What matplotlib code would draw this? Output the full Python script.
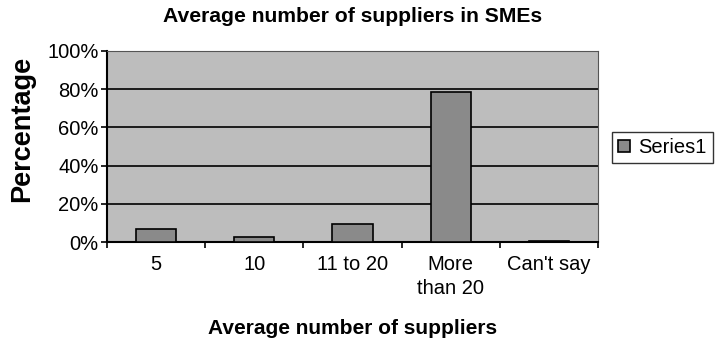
import matplotlib.pyplot as plt
import numpy as np

plt.rcParams['font.family'] = ['Liberation Sans', 'DejaVu Sans']

# === DATA ===
categories = ["5", "10", "11 to 20", "More\nthan 20", "Can't say"]
percentages = [6.8, 2.5, 9.2, 78.3, 0.5]
y_ticks = [0, 20, 40, 60, 80, 100]
y_tick_labels = ["0%", "20%", "40%", "60%", "80%", "100%"]

W, H = 717, 345
fig = plt.figure(figsize=(W / 100, H / 100), dpi=100)
# plot area in pixels: x 107..598, y 51..242
ax = fig.add_axes([107 / W, 1 - 242 / H, (598 - 107) / W, (242 - 51) / H])

ax.set_facecolor('#bdbdbd')
x = np.arange(len(categories))
ax.bar(x, percentages, width=0.41, color='#8a8a8a', edgecolor='black', linewidth=1.2,
       label='Series1', zorder=3)

ax.set_xlim(-0.5, len(categories) - 0.5)
ax.set_ylim(0, 100)
ax.set_yticks(y_ticks)
ax.set_yticklabels(y_tick_labels, fontsize=14.5)
ax.yaxis.grid(True, color='black', linewidth=1.2, zorder=1)
ax.set_axisbelow(True)

# category ticks sit between categories, labels centred
ax.set_xticks(np.arange(-0.5, len(categories), 1.0))
ax.set_xticklabels([])
ax.set_xticks(x, minor=True)
ax.set_xticklabels(categories, minor=True, fontsize=14.5, va='top', linespacing=1.35)
ax.tick_params(axis='x', which='minor', length=0, pad=9)
ax.tick_params(axis='x', which='major', length=4.5, width=1.2, direction='out')
ax.tick_params(axis='y', length=4, width=1.2, pad=2)

for side in ['left', 'bottom']:
    ax.spines[side].set_linewidth(1.5)
for side in ['top', 'right']:
    ax.spines[side].set_color('#555555')
    ax.spines[side].set_linewidth(0.8)

fig.text(22 / W, 1 - 129 / H, "Percentage", rotation=90, ha='center', va='center',
         fontsize=19.5, fontweight='bold')
fig.text(352.5 / W, 1 - 329 / H, "Average number of suppliers", ha='center', va='center',
         fontsize=15, fontweight='bold')
fig.text(352.5 / W, 1 - 16 / H, "Average number of suppliers in SMEs",
         ha='center', va='center', fontsize=15.2, fontweight='bold')

leg = fig.legend(loc='upper left', bbox_to_anchor=(612 / W, 1 - 132 / H), fontsize=14.5,
                 frameon=True, fancybox=False, edgecolor='black', handlelength=0.6,
                 handleheight=0.6, handletextpad=0.4, borderpad=0.3, borderaxespad=0)
leg.get_frame().set_linewidth(1.0)

fig.savefig('out.png', dpi=100)
